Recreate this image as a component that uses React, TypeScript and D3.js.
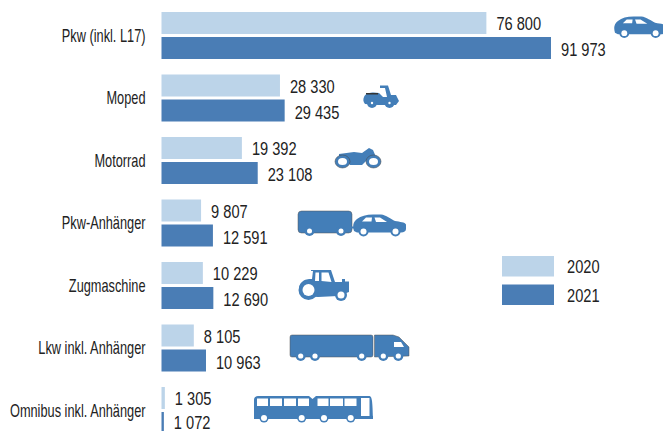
import React from "react";
import * as d3 from "d3";

const categories = ["Pkw (inkl. L17)", "Moped", "Motorrad", "Pkw-Anhänger", "Zugmaschine", "Lkw inkl. Anhänger", "Omnibus inkl. Anhänger"];
const values2020 = [76800, 28330, 19392, 9807, 10229, 8105, 1305];
const values2021 = [91973, 29435, 23108, 12591, 12690, 10963, 1072];
const years = ["2020", "2021"];

const LIGHT = "#bcd4e9";
const DARK = "#4a7db5";
const ICON = "#437eb8";
const TEXT = "#222222";
const FONT = "'Liberation Sans', sans-serif";

const fmt = d3.formatLocale({ decimal: ",", thousands: " ", grouping: [3], currency: ["", ""] }).format(",d");
const x = d3.scaleLinear().domain([0, 91973]).range([159.3, 551]);
const y = d3.scaleBand().domain(categories).range([5, 442.5]).paddingInner(0).paddingOuter(0);
const barH = 22;
const barLeft = 161.5;

const Cond = ({ tx, ty, size, sx, anchor, children }: any) => (
  <text transform={`translate(${tx},${ty}) scale(${sx},1)`} dy="0.35em" fontSize={size} textAnchor={anchor}>{children}</text>
);

const Wheel = ({ cx, cy, r = 5, hole = 2.5 }: any) => (
  <g>
    <circle cx={cx} cy={cy} r={r} fill={ICON} />
    <circle cx={cx} cy={cy} r={hole} fill="#fff" />
  </g>
);

const Car = ({ tx, ty, s = 1 }: any) => (
  <g transform={`translate(${tx},${ty}) scale(${s})`}>
    <path fill={ICON} d="M1,17 C-0.5,12 0,8 4,5 C8,2 13,0.5 20,0.5 L28,0.5 C33,1 38,5 42,7 C47,8 52,8 53,10.5 L53,15 C53,17 51,18.5 48,18.5 L14,18.5 L4,18.5 Z" />
    <path fill="#fff" d="M9,7.5 L13,3.5 L19,3.5 L18.5,7.5 Z M21.5,3.5 L27,3.5 L34,8 L23,8 Z" />
    <Wheel cx={10.5} cy={17.5} r={5} hole={3} />
    <Wheel cx={42.5} cy={17.5} r={5} hole={3} />
  </g>
);

const Trailer = () => (
  <g>
    <rect x={298} y={211} width={54} height={22} rx={3.5} fill={ICON} stroke="#555" strokeWidth={0.5} />
    <rect x={351} y={226.5} width={3} height={2} fill={ICON} />
    <Wheel cx={309.5} cy={231} />
    <Wheel cx={341} cy={231} />
  </g>
);

const Tractor = () => (
  <g>
    <path fill={ICON} d="M311,270 L331,270 L335,282 L342,282 L342,279 L345,279 L345,281.5 L349,281.5 L349,292 L338,296 L318,297 L303,296 C298,292 298,285 302,282 C305,279 308,279 312,279 L313,271 L311,271 Z" />
    <path fill="#fff" d="M315.5,272.5 L319,272.5 L319,281 L315,281 Z M321.5,272.5 L328.5,272.5 L331.5,282 L321.5,281 Z" />
    <Wheel cx={308.5} cy={290} r={10} hole={6} />
    <Wheel cx={341} cy={295} r={6} hole={3.5} />
  </g>
);

const Truck = () => (
  <g>
    <rect x={290} y={335} width={83} height={22} rx={2} fill={ICON} stroke="#555" strokeWidth={0.5} />
    <path fill={ICON} stroke="#555" strokeWidth={0.5} d="M374.5,335 L393,335 L399,337 L409,347 L409,356 L374.5,357 Z" />
    <path fill="#fff" d="M394,342 L401,342 L404,347 L394,347 Z" />
    {[300.7, 315, 361.7, 383.3, 398.3].map((c) => <Wheel key={c} cx={c} cy={356} r={5} hole={2.6} />)}
  </g>
);

const Bus = () => (
  <g>
    <path fill={ICON} d="M258,396 L309,396 L312.5,399 L316,396 L369,396 C372,396 372.5,400 373,418 L254,418 L254,400 C254,397 256,396 258,396 Z" />
    <path fill={ICON} d="M254,416 L312,416 L318,418 L373,416 L373,419 L254,419 Z" />
    {[[257, 11], [270, 12], [284, 12], [298, 11], [317.5, 11], [330, 13], [344.5, 12]].map(([a, w]) => (
      <rect key={a} x={a} y={398.5} width={w} height={7.5} fill="#fff" />
    ))}
    <rect x={361} y={398} width={8.5} height={18} fill="#fff" />
    {[264, 301.7, 324, 350.7].map((c) => <Wheel key={c} cx={c} cy={418} r={4.5} hole={3} />)}
  </g>
);

const Moped = () => (
  <g>
    <path fill={ICON} d="M364,97 C366,92 374,92 379,93 L383,97 L387,97 L385,88 L380,88 L380,85.5 L388,85.5 L391,95 L396,95 L399,101 L396,105 L385,105 L378,105 L365,104 C363,102 363,99 364,97 Z" />
    <rect x={366} y={93} width={12} height={1.5} fill="#333" />
    <Wheel cx={372} cy={103} r={5} hole={1.2} />
    <Wheel cx={389.5} cy={103} r={5} hole={1.2} />
  </g>
);

const Motorbike = () => (
  <g>
    <path fill={ICON} d="M339,154 L354,152 L362,153 L369,148 L373,150 L376,157 L368,159 L362,165 L350,165 L345,157 L339,156 Z" />
    <ellipse cx={342.5} cy={161.5} rx={7.5} ry={6.5} fill={ICON} stroke="#444" strokeWidth={0.5} />
    <ellipse cx={342.5} cy={161.5} rx={4.5} ry={3.5} fill="#fff" />
    <ellipse cx={373.5} cy={161.5} rx={7.5} ry={6.5} fill={ICON} stroke="#444" strokeWidth={0.5} />
    <ellipse cx={373.5} cy={161.5} rx={4.5} ry={3.5} fill="#fff" />
  </g>
);

export default function App() {
  return (
    <svg width={663} height={431} style={{ position: "fixed", left: 0, top: 0, display: "block" }} fontFamily={FONT} fill={TEXT}>
      <rect width={663} height={431} fill="#fff" />
      {categories.map((c, i) => {
        const top = y(c)! + 7;
        const y2 = top + barH + 3;
        return (
          <g key={c}>
            <rect x={barLeft} y={top} width={x(values2020[i]) - barLeft} height={barH} fill={LIGHT} />
            <rect x={barLeft} y={y2} width={x(values2021[i]) - barLeft} height={barH} fill={DARK} />
            <Cond tx={145.5} ty={top + barH + 1.5} size={18} sx={0.71} anchor="end">{c}</Cond>
            <Cond tx={x(values2020[i]) + 10} ty={top + barH / 2 + 0.5} size={19} sx={0.77}>{fmt(values2020[i])}</Cond>
            <Cond tx={x(values2021[i]) + 10} ty={Math.min(y2 + barH / 2 + 1.5, 422)} size={19} sx={0.77}>{fmt(values2021[i])}</Cond>
          </g>
        );
      })}
      {years.map((yr, i) => (
        <g key={yr}>
          <rect x={502} y={256 + i * 28.5} width={52} height={20.5} fill={i ? DARK : LIGHT} />
          <Cond tx={567} ty={266.5 + i * 28.5} size={19} sx={0.77}>{yr}</Cond>
        </g>
      ))}
      <Car tx={614} ty={16} s={0.98} />
      <Moped />
      <Motorbike />
      <Trailer />
      <Car tx={353} ty={214} />
      <Tractor />
      <Truck />
      <Bus />
    </svg>
  );
}
